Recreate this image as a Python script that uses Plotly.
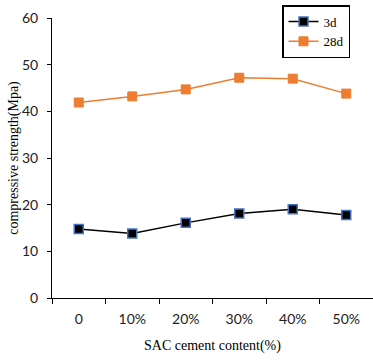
import plotly.graph_objects as go

categories = ["0", "10%", "20%", "30%", "40%", "50%"]
s3d = [14.8, 13.8, 16.1, 18.1, 19.0, 17.8]
s28d = [41.9, 43.2, 44.7, 47.2, 47.0, 43.8]
yticks = [0, 10, 20, 30, 40, 50, 60]

fig = go.Figure()
fig.add_trace(go.Scatter(x=categories, y=s3d, name="3d", mode="lines+markers",
                         line=dict(color="black", width=1.5),
                         marker=dict(symbol="square", size=9, color="black",
                                     line=dict(color="#4472C4", width=1.5))))
fig.add_trace(go.Scatter(x=categories, y=s28d, name="28d", mode="lines+markers",
                         line=dict(color="#ED7D31", width=1.5),
                         marker=dict(symbol="square", size=9, color="#ED7D31",
                                     line=dict(color="#ED7D31", width=1))))

fig.update_layout(
    width=373, height=360,
    margin=dict(l=52, r=0, t=5, b=62, autoexpand=False),
    plot_bgcolor="white", paper_bgcolor="white",
    showlegend=True,
    legend=dict(x=(282 - 52) / 321, y=1.0, xanchor="left", yanchor="top",
                bordercolor="black", borderwidth=1.5,
                font=dict(family="Liberation Serif", size=13, color="black"),
                bgcolor="white", tracegroupgap=0, itemwidth=30),
    xaxis=dict(type="category", range=[-0.5, 5.5], showline=True, linecolor="black",
               linewidth=1, ticks="outside", tickson="boundaries", ticklen=5,
               tickcolor="black", showgrid=False, automargin=False,
               ticklabelstandoff=8,
               tickfont=dict(family="Lato", size=14, color="#222"),
               title=dict(text="SAC cement content(%)", standoff=14,
                          font=dict(family="Liberation Serif", size=14, color="black"))),
    yaxis=dict(range=[0, 60], tickvals=yticks, showline=True, linecolor="black",
               linewidth=1, ticks="outside", ticklen=4, tickcolor="black",
               showgrid=False, zeroline=False, automargin=False, domain=[0, 280 / 293],
               ticklabelstandoff=6,
               tickfont=dict(family="Lato", size=14, color="#222"),
               title=dict(text="compressive strength(Mpa)", standoff=0,
                          font=dict(family="Liberation Serif", size=14, color="black"))),
)
fig.write_html("out.html", config={"displayModeBar": False},
               post_script="document.body.style.margin='0';document.body.style.overflow='hidden';")
